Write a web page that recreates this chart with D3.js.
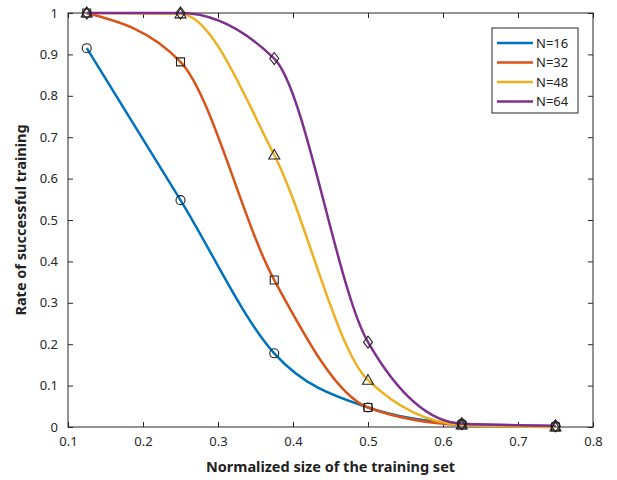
<!DOCTYPE html>
<html>
<head>
<meta charset="utf-8">
<script src="https://cdn.jsdelivr.net/npm/d3@7"></script>
<style>
  body { margin: 0; background: #fff; }
  text { font-family: "Noto Sans", sans-serif; }
</style>
</head>
<body>
<div id="chart"></div>
<script>
"use strict";

// data
var trainSize = [0.125, 0.25, 0.375, 0.5, 0.625, 0.75];
var seriesNames = ["N=16", "N=32", "N=48", "N=64"];
var rateN16 = [0.915, 0.548, 0.178, 0.047, 0.008, 0.002];
var rateN32 = [1.0, 0.882, 0.355, 0.047, 0.005, 0.0];
var rateN48 = [1.0, 0.998, 0.657, 0.113, 0.005, 0.0];
var rateN64 = [1.0, 1.0, 0.89, 0.205, 0.008, 0.003];
var xTicks = [0.1, 0.2, 0.3, 0.4, 0.5, 0.6, 0.7, 0.8];
var yTicks = [0, 0.1, 0.2, 0.3, 0.4, 0.5, 0.6, 0.7, 0.8, 0.9, 1];

var seriesColors = ["#0072BD", "#D95319", "#EDB120", "#7E2F8E"];
var markerTypes = ["circle", "square", "triangle", "diamond"];
var allRates = [rateN16, rateN32, rateN48, rateN64];

var width = 617, height = 480;
var plotLeft = 68, plotRight = 593, plotTop = 13, plotBottom = 427;
var axisColor = "#262626";

var svg = d3.select("#chart").append("svg")
  .attr("width", width)
  .attr("height", height);

var x = d3.scaleLinear().domain([0.1, 0.8]).range([plotLeft, plotRight]);
var y = d3.scaleLinear().domain([0, 1]).range([plotBottom, plotTop]);

// axes with inward ticks, mirrored on top and right
function styleAxis(g) {
  g.select(".domain").remove();
  g.selectAll(".tick line").attr("stroke", axisColor);
  g.selectAll(".tick text").attr("fill", axisColor).style("font-size", "13px");
}

svg.append("g")
  .attr("transform", "translate(0," + plotBottom + ")")
  .call(d3.axisBottom(x).tickValues(xTicks).tickSizeInner(-5).tickSizeOuter(0).tickPadding(10).tickFormat(d3.format("")))
  .call(styleAxis);

svg.append("g")
  .attr("transform", "translate(0," + plotTop + ")")
  .call(d3.axisTop(x).tickValues(xTicks).tickSizeInner(-5).tickSizeOuter(0).tickFormat(""))
  .call(styleAxis);

svg.append("g")
  .attr("transform", "translate(" + plotLeft + ",0)")
  .call(d3.axisLeft(y).tickValues(yTicks).tickSizeInner(-5).tickSizeOuter(0).tickPadding(10).tickFormat(d3.format("")))
  .call(styleAxis);

svg.append("g")
  .attr("transform", "translate(" + plotRight + ",0)")
  .call(d3.axisRight(y).tickValues(yTicks).tickSizeInner(-5).tickSizeOuter(0).tickFormat(""))
  .call(styleAxis);

svg.append("rect")
  .attr("x", plotLeft)
  .attr("y", plotTop)
  .attr("width", plotRight - plotLeft)
  .attr("height", plotBottom - plotTop)
  .attr("fill", "none")
  .attr("stroke", axisColor)
  .attr("stroke-width", 1);

// curves
var line = d3.line()
  .x(function(d, i) { return x(trainSize[i]); })
  .y(function(d) { return y(d); })
  .curve(d3.curveMonotoneX);

allRates.forEach(function(rates, s) {
  svg.append("path")
    .datum(rates)
    .attr("d", line)
    .attr("fill", "none")
    .attr("stroke", seriesColors[s])
    .attr("stroke-width", 2.5);
});

// hollow black markers
function markerPath(type, cx, cy) {
  var r = 4.5;
  if (type === "circle") {
    return "M" + (cx + r) + "," + cy + "A" + r + "," + r + " 0 1,1 " + (cx - r) + "," + cy + "A" + r + "," + r + " 0 1,1 " + (cx + r) + "," + cy + "Z";
  }
  if (type === "square") {
    var h = 4;
    return "M" + (cx - h) + "," + (cy - h) + "H" + (cx + h) + "V" + (cy + h) + "H" + (cx - h) + "Z";
  }
  if (type === "triangle") {
    return "M" + cx + "," + (cy - 5.5) + "L" + (cx + 5.5) + "," + (cy + 4) + "L" + (cx - 5.5) + "," + (cy + 4) + "Z";
  }
  return "M" + cx + "," + (cy - 6) + "L" + (cx + 4.5) + "," + cy + "L" + cx + "," + (cy + 6) + "L" + (cx - 4.5) + "," + cy + "Z";
}

allRates.forEach(function(rates, s) {
  svg.append("g")
    .selectAll("path")
    .data(rates)
    .enter()
    .append("path")
      .attr("d", function(d, i) { return markerPath(markerTypes[s], x(trainSize[i]), y(d)); })
      .attr("fill", "none")
      .attr("stroke", "#222")
      .attr("stroke-width", 1.1);
});

// axis titles
svg.append("text")
  .attr("x", (plotLeft + plotRight) / 2)
  .attr("y", 472)
  .attr("text-anchor", "middle")
  .attr("fill", "#222")
  .style("font-size", "14.5px")
  .style("font-weight", "bold")
  .text("Normalized size of the training set");

svg.append("text")
  .attr("transform", "translate(26," + ((plotTop + plotBottom) / 2) + ") rotate(-90)")
  .attr("text-anchor", "middle")
  .attr("fill", "#222")
  .style("font-size", "14.5px")
  .style("font-weight", "bold")
  .text("Rate of successful training");

// legend
var legend = svg.append("g").attr("transform", "translate(492,28)");
legend.append("rect")
  .attr("width", 86)
  .attr("height", 85)
  .attr("fill", "#fff")
  .attr("stroke", axisColor);

seriesNames.forEach(function(name, s) {
  var ly = 15 + s * 19.5;
  legend.append("line")
    .attr("x1", 5).attr("x2", 41)
    .attr("y1", ly).attr("y2", ly)
    .attr("stroke", seriesColors[s])
    .attr("stroke-width", 2.5);
  legend.append("text")
    .attr("x", 44)
    .attr("y", ly + 4.5)
    .attr("fill", "#222")
    .style("font-size", "13px")
    .text(name);
});
</script>
</body>
</html>
